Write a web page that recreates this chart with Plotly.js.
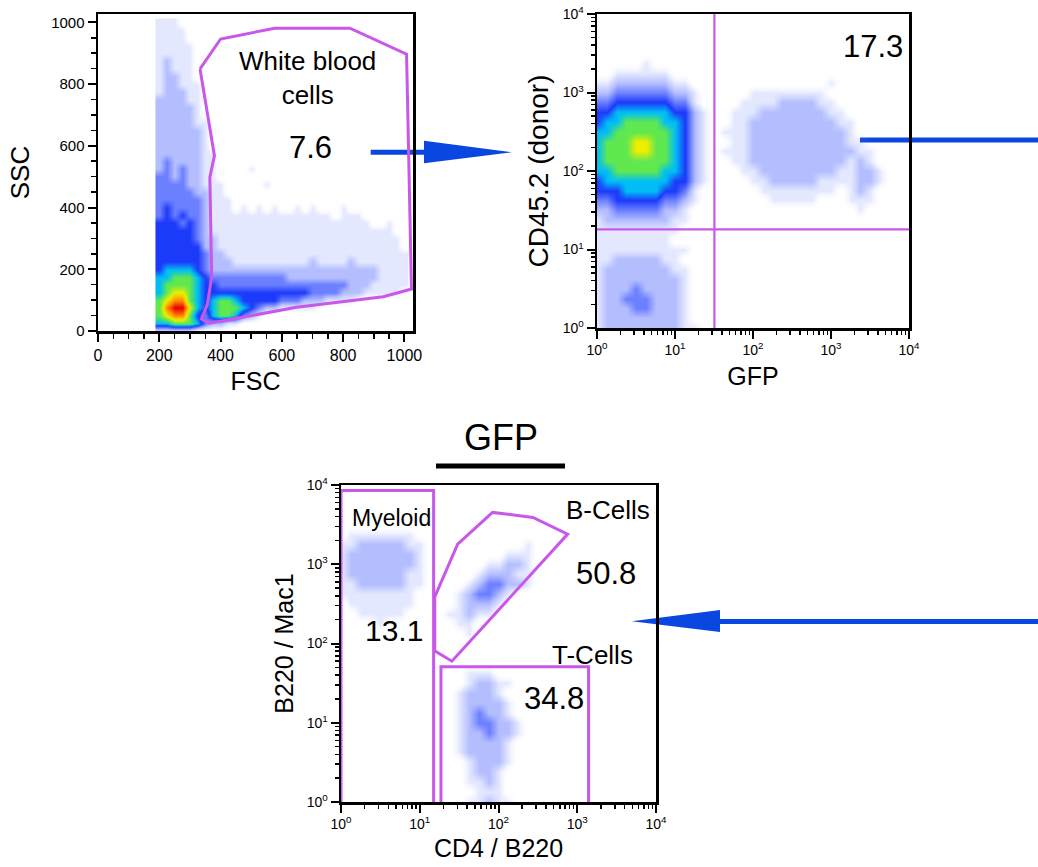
<!DOCTYPE html>
<html><head><meta charset="utf-8">
<script src="https://cdn.plot.ly/plotly-3.0.1.min.js"></script>
<style>html,body{margin:0;padding:0;background:#fff}#chart{width:1038px;height:867px}</style>
</head><body><div id="chart"></div>
<script>
// ---------------- DATA ----------------
// Panel 1: FSC / SSC event density (levels 0-9), bins of 25 units
const fscBins = [200,225,250,275,300,325,350,375,400,425,450,475,500,525,550,575,600,625,650,675,700,725,750,775,800,825,850,875,900,925,950,975,1000];
const sscBins = [1000,975,950,925,900,875,850,825,800,775,750,725,700,675,650,625,600,575,550,525,500,475,450,425,400,375,350,325,300,275,250,225,200,175,150,125,100,75,50,25,0];
const fscSscDensity = [
"111","1111","1111","11111","11111","12111","12111","12211","122111","122211",
"222211","222221","222221","2222211","2222221","2222221","2222221","22222211","23222211","2323221100001",
"33232211","333322111000001","333332211","3333332111","3433332111010101001010001",
"343433211111111111111110111","44434321111111111111111111110010","4444432111111111111111111111111",
"44444322111111111111111111111111","44444422111111111111111111111111","444444322111111111111111111111111",
"444444322211111111112111121111111","455554322222222222222222222221111","556665433333333332222222222221111",
"566665443333333333333333322211111","567765444444444444443333222111110","67886545665444443332221111",
"689975456665432211111","67886435665321","556665322110","11111"];

// Panels 2 and 3: log decades, bins of 1/8 decade (exponents of 10)
const decadeBins = [0,0.125,0.25,0.375,0.5,0.625,0.75,0.875,1,1.125,1.25,1.375,1.5,1.625,1.75,1.875,2,2.125,2.25,2.375,2.5,2.625,2.75,2.875,3,3.125,3.25,3.375,3.5,3.625,3.75,3.875,4];

// Panel 2: GFP (x) vs CD45.2 (y) density, rows from 10^4 down to 10^0
const gfpCd45Density = [
"","","","","",
"0000010000000",
"0011111100000",
"1122222211000"+"00000000000100000000",
"2233333322100"+"00011111111000000000",
"3344444433100"+"00111122221100000000",
"4455555544210"+"01112222222110000000",
"4556666554210"+"01122222222211000000",
"5566666654210"+"11122222222221000000",
"5666776654210"+"01122222222221100000",
"5666776654210"+"11122222222222110000",
"5666666654210"+"01122222222221210000",
"5566666554210"+"00112222222211221000",
"4555555544210"+"00011222221111221000",
"4445555443100"+"00001111111101210000",
"3344444332100"+"00000111110001110000",
"2233333221000"+"00000000000000100000",
"1222222211000",
"1111111110000",
"1111111100000",
"1111111111000",
"1122222110000",
"1222222211000",
"1222222221000",
"1222322221000",
"1223332221000",
"1222332221000",
"1222222221000",
"1222222221100"];

// Panel 3: CD4/B220 (x) vs B220/Mac1 (y) density of GFP+ cells, rows from 10^4 down to 10^0
const lineageDensity = [
"","","","","",
"0111111100"+"00000000000000000000000",
"1122222110"+"00000000010000000000000",
"1222222210"+"00000001110000000000000",
"1222222210"+"00000112210000000000000",
"1222222110"+"00001222110000000000000",
"1122222110"+"00012332210000000000000",
"1111111100"+"00123321000000000000000",
"0111111100"+"00122210000000000000000",
"0011111000"+"01121100000000000000000",
"0000100000"+"00110000000000000000000",
"0000000000"+"00010000000000000000000",
"","","",
"0000000000"+"00011100000000000000000",
"0000000000"+"00012211000000000000000",
"0000000000"+"00122210000000000000000",
"0000000000"+"00122221000000000000000",
"0000000000"+"00123221000000000000000",
"0000000000"+"00123322100000000000000",
"0000000000"+"00122322100000000000000",
"0000000000"+"00122221000000000000000",
"0000000000"+"00122221000000000000000",
"0000000000"+"00012221000000000000000",
"0000000000"+"00012210000000000000000",
"0000000000"+"00011210000000000000000",
"0000000000"+"00001110000000000000000",
"0000000000"+"00011211000000000000000"];

// Gates (data units)
const wbcGateFSC = [333,400,577,822,1007,1023,931,648,365,338,357,371,365,380,333];
const wbcGateSSC = [849,946,981,981,897,136,111,77,25,39,87,174,498,568,849];
const quadrantGFP = 32;
const quadrantCD45 = 18;
const myeloidGateX = [1,1,15,15];
const myeloidGateY = [1,8500,8500,1];
const bCellGateX = [15.5,30.3,84.1,274,755,25.6,15.5,15.5];
const bCellGateY = [387,1795,4508,3899,2399,59.8,80.7,387];
const tCellGateX = [18.6,18.6,1393,1393];
const tCellGateY = [1,51,51,1];

// Gate labels and percentages
const wbcLabel = 'White blood<br>cells';
const wbcPercent = '7.6';
const gfpPercent = '17.3';
const myeloidLabel = 'Myeloid', myeloidPercent = '13.1';
const bCellLabel = 'B-Cells', bCellPercent = '50.8';
const tCellLabel = 'T-Cells', tCellPercent = '34.8';

// ---------------- BUILD ----------------
function parseGrid(rows, ncol){
  return rows.map(r => r.padEnd(ncol,'0').slice(0,ncol).split('').map(Number)).reverse();
}
const FONT = 'Liberation Sans, Arial, Helvetica, sans-serif';
const GATE = '#c957ea';
const BLUE = '#0a46e0';

const cscale = [
  [0,'rgba(255,255,255,0)'],
  [1/9,'rgba(45,75,255,0.13)'],
  [2/9,'rgba(40,70,255,0.35)'],
  [3/9,'rgba(30,60,255,0.66)'],
  [4/9,'rgb(28,58,250)'],
  [5/9,'rgb(0,190,245)'],
  [6/9,'rgb(95,232,80)'],
  [7/9,'rgb(238,238,0)'],
  [8/9,'rgb(255,135,0)'],
  [1,'rgb(228,0,0)']
];
const logVals = decadeBins.map(e => Math.pow(10,e));
function hm(x,y,z,xa,ya){
  return {type:'heatmap', x:x, y:y, z:z, xaxis:xa, yaxis:ya, zmin:0, zmax:9,
    colorscale:cscale, showscale:false, zsmooth:'best', hoverinfo:'skip'};
}
function gate(x,y,xa,ya,w){
  return {type:'scatter', mode:'lines', x:x, y:y, xaxis:xa, yaxis:ya,
    line:{color:GATE, width:w||3}, hoverinfo:'skip', showlegend:false};
}

const traces = [
  hm(fscBins, sscBins.slice().reverse(), parseGrid(fscSscDensity, fscBins.length),'x','y'),
  hm(logVals, logVals, parseGrid(gfpCd45Density, decadeBins.length),'x2','y2'),
  hm(logVals, logVals, parseGrid(lineageDensity, decadeBins.length),'x3','y3'),
  gate(wbcGateFSC, wbcGateSSC,'x','y',3),
  gate([quadrantGFP,quadrantGFP],[1,10000],'x2','y2',2.2),
  gate([1,10000],[quadrantCD45,quadrantCD45],'x2','y2',2.2),
  gate(myeloidGateX, myeloidGateY,'x3','y3',3),
  gate(bCellGateX, bCellGateY,'x3','y3',3),
  gate(tCellGateX, tCellGateY,'x3','y3',3)
];

const minorLog = [];
for (let k=0;k<4;k++) for (let m=2;m<=9;m++) minorLog.push(m*Math.pow(10,k));
const decTicks = [1,10,100,1000,10000];
const decText = ['10<sup>0</sup>','10<sup>1</sup>','10<sup>2</sup>','10<sup>3</sup>','10<sup>4</sup>'];

function baseAxis(extra){
  return Object.assign({showgrid:false, zeroline:false, showline:true, linecolor:'#000', linewidth:2.5,
    mirror:true, ticks:'outside', ticklen:8, tickwidth:2, tickcolor:'#000', fixedrange:true}, extra);
}
function logAxis(domain, anchor, title, standoff, tsize){
  return baseAxis({type:'log', range:[0,4], domain:domain, anchor:anchor,
    tickmode:'array', tickvals:decTicks, ticktext:decText,
    tickfont:{size:14, color:'#000'},
    minor:{tickmode:'array', tickvals:minorLog, ticks:'outside', ticklen:4, tickwidth:1.5, tickcolor:'#000'},
    title:{text:title, font:{size:tsize||25, color:'#000'}, standoff:standoff}});
}

const layout = {
  width:1038, height:867, margin:{l:0,r:0,t:0,b:0},
  paper_bgcolor:'#fff', plot_bgcolor:'rgba(0,0,0,0)', showlegend:false,
  font:{family:FONT, color:'#000'},
  xaxis: baseAxis({range:[0,1028], domain:[98/1038,413/1038], anchor:'y', tick0:0, dtick:200,
    tickfont:{size:16}, minor:{dtick:50, ticks:'outside', ticklen:5, tickwidth:1.5, tickcolor:'#000'},
    title:{text:'FSC', font:{size:25}, standoff:10}}),
  yaxis: baseAxis({range:[0,1027], domain:[1-331/867,1-14/867], anchor:'x', tick0:0, dtick:200,
    tickfont:{size:15}, minor:{dtick:50, ticks:'outside', ticklen:5, tickwidth:1.5, tickcolor:'#000'},
    title:{text:'SSC', font:{size:26}, standoff:14}}),
  xaxis2: logAxis([597/1038,909/1038],'y2','GFP',10, 25),
  yaxis2: logAxis([1-328/867,1-14/867],'x2','CD45.2 (donor)',6, 28),
  xaxis3: logAxis([341/1038,656/1038],'y3','CD4 / B220',8, 25),
  yaxis3: logAxis([1-802/867,1-485/867],'x3','B220 / Mac1',6, 25),
  annotations: [
    {xref:'x', yref:'y', x:685, y:821, text:wbcLabel, showarrow:false, font:{size:26}},
    {xref:'x', yref:'y', x:692, y:593, text:wbcPercent, showarrow:false, font:{size:31}},
    {xref:'x2', yref:'y2', x:3.54, y:3.58, text:gfpPercent, showarrow:false, font:{size:31}},
    {xref:'x3', yref:'y3', x:0.635, y:3.58, text:myeloidLabel, showarrow:false, font:{size:23}},
    {xref:'x3', yref:'y3', x:0.677, y:2.17, text:myeloidPercent, showarrow:false, font:{size:30}},
    {xref:'x3', yref:'y3', x:3.39, y:3.69, text:bCellLabel, showarrow:false, font:{size:26}},
    {xref:'x3', yref:'y3', x:3.365, y:2.888, text:bCellPercent, showarrow:false, font:{size:31}},
    {xref:'x3', yref:'y3', x:3.196, y:1.856, text:tCellLabel, showarrow:false, font:{size:26}},
    {xref:'x3', yref:'y3', x:2.709, y:1.309, text:tCellPercent, showarrow:false, font:{size:31}},
    {xref:'paper', yref:'paper', x:501/1038, y:1-437/867, text:'GFP', showarrow:false, font:{size:36},
      xanchor:'center', yanchor:'middle'}
  ],
  shapes: [
    {type:'line', xref:'paper', yref:'paper', x0:436/1038, x1:565/1038, y0:1-466/867, y1:1-466/867, line:{color:'#000', width:5}},
    {type:'line', xref:'paper', yref:'paper', layer:'below', x0:370.7/1038, x1:424/1038, y0:1-152.3/867, y1:1-152.3/867, line:{color:BLUE, width:5}},
    {type:'path', xref:'paper', yref:'paper', layer:'below', path:`M ${424/1038},${1-140.7/867} L ${511.7/1038},${1-152.3/867} L ${424/1038},${1-163.3/867} Z`, fillcolor:BLUE, line:{width:0}},
    {type:'line', xref:'paper', yref:'paper', layer:'below', x0:860/1038, x1:1, y0:1-140/867, y1:1-140/867, line:{color:BLUE, width:5}},
    {type:'line', xref:'paper', yref:'paper', layer:'below', x0:719/1038, x1:1, y0:1-621.5/867, y1:1-621.5/867, line:{color:BLUE, width:5}},
    {type:'path', xref:'paper', yref:'paper', layer:'below', path:`M ${720/1038},${1-610/867} L ${631.7/1038},${1-621.3/867} L ${720/1038},${1-632/867} Z`, fillcolor:BLUE, line:{width:0}}
  ]
};
Plotly.newPlot('chart', traces, layout, {displayModeBar:false, staticPlot:true});
</script>
</body></html>
